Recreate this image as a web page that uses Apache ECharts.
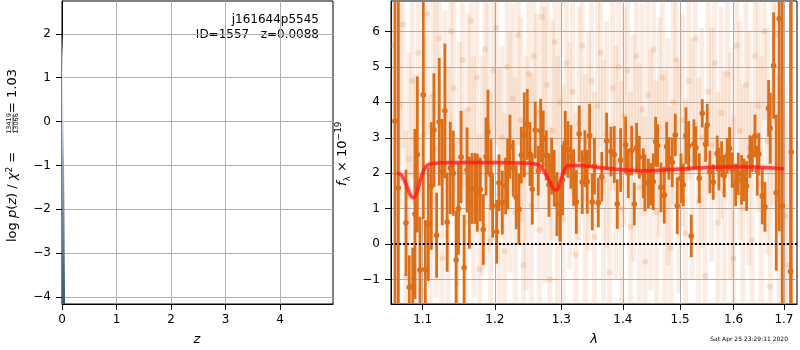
<!DOCTYPE html>
<html>
<head>
<meta charset="utf-8">
<script src="https://cdn.jsdelivr.net/npm/echarts@6/dist/echarts.min.js"></script>
<style>
  html, body { margin: 0; padding: 0; background: #fff; }
  #chart { width: 800px; height: 350px; }
</style>
</head>
<body>
<div id="chart"></div>
<script>
// left panel: log p(z)
const zGrid = [0, 0.009, 0.015, 0.027, 0.037, 0.045, 0.05, 0.055, 0.057]
const logPz = [2.02, 2.03, 1.5, 0.0, -1.0, -2.0, -3.0, -4.0, -4.16]
const zTicks = [0, 1, 2, 3, 4]
const pzTicks = [-4, -3, -2, -1, 0, 1, 2]

// right panel: template fit
const modelWave = [1.066, 1.072, 1.078, 1.083, 1.088, 1.093, 1.099, 1.104, 1.110, 1.120, 1.150, 1.200, 1.240, 1.258, 1.268, 1.278, 1.287, 1.293, 1.299, 1.305, 1.311, 1.330, 1.360, 1.400, 1.430, 1.460, 1.500, 1.550, 1.600, 1.650, 1.700]
const modelFlux = [2.0, 1.95, 1.7, 1.42, 1.31, 1.5, 1.95, 2.18, 2.26, 2.29, 2.3, 2.3, 2.29, 2.27, 2.2, 1.9, 1.58, 1.53, 1.8, 2.1, 2.22, 2.22, 2.16, 2.1, 2.07, 2.08, 2.12, 2.16, 2.18, 2.17, 2.12]

// spectrum points with good S/N
const specWave = [
  1.0639, 1.0682, 1.0781, 1.0824, 1.0868, 1.0898, 1.0929, 1.0964, 1.1008, 1.1035,
  1.1075, 1.1115, 1.1150, 1.1186, 1.1222, 1.1262, 1.1298, 1.1330, 1.1372, 1.1413,
  1.1453, 1.1485, 1.1521, 1.1563, 1.1604, 1.1637, 1.1674, 1.1716, 1.1749, 1.1791,
  1.1834, 1.1872, 1.1900, 1.1943, 1.1967,
  1.2026, 1.2059, 1.2108, 1.2156, 1.2186, 1.2220, 1.2269, 1.2313, 1.2353, 1.2388,
  1.2433, 1.2478, 1.2518, 1.2553, 1.2598, 1.2644, 1.2680, 1.2720, 1.2767, 1.2808,
  1.2849, 1.2890, 1.2932, 1.2978, 1.3020, 1.3062, 1.3104, 1.3152, 1.3194, 1.3237,
  1.3284, 1.3332, 1.3375, 1.3413, 1.3451, 1.3494,
  1.3530, 1.3593, 1.3650, 1.3730, 1.3802, 1.3857, 1.3907, 1.3963, 1.4047, 1.4093,
  1.4150, 1.4195, 1.4235, 1.4281, 1.4350, 1.4378, 1.4436, 1.4477, 1.4524, 1.4565,
  1.4600, 1.4659, 1.4717, 1.4759, 1.4800, 1.4860, 1.4914, 1.4950, 1.5016, 1.5058,
  1.5106, 1.5155, 1.5204, 1.5253,
  1.5290, 1.5351, 1.5407, 1.5469, 1.5499, 1.5549, 1.5612, 1.5687, 1.5719, 1.5770,
  1.5820, 1.5877, 1.5922, 1.5973, 1.6038, 1.6090, 1.6154, 1.6200, 1.6252, 1.6317,
  1.6363, 1.6417, 1.6462, 1.6495, 1.6562, 1.6615, 1.6688, 1.6722, 1.6790, 1.6843,
  1.6904, 1.6966, 1.7137, 1.7151
]
const specFlux = [
  3.47, 1.59, 0.60, -1.22, -1.20, 0.85, 2.53, -0.73, 4.21, -0.72,
  0.56, 1.64, 3.22, 0.25, 3.45, 2.03, 3.76, 0.62, 2.15, 2.00,
  -0.45, 1.00, 2.46, -0.67, 2.09, 1.17, 1.57, 1.57, 1.45, 1.54,
  0.41, 2.47, 3.16, 1.96, 1.08,
  0.35, 1.73, 1.17, 1.64, 1.98, 2.75, 2.14, 1.32, 0.98, 2.51,
  3.08, 3.38, 2.54, 1.55, 3.22, 2.07, 3.20, 2.97, 2.51, 1.67,
  2.20, 1.86, 1.13, 0.87, 1.81, 2.86, 2.67, 2.46, 1.88, 1.19,
  3.11, 1.75, 2.41, 1.76, 3.06, 1.19,
  2.20, 1.17, 1.90, 2.91, 2.61, 2.53, 1.13, 2.37, 2.80, 2.00,
  2.64, 1.13, 2.72, 2.45, 2.00, 1.73, 1.71, 1.69, 1.76, 2.89,
  2.78, 1.60, 1.38, 2.75, 2.42, 2.31, 3.08, 1.08, 1.86, 1.67,
  3.06, 2.77, 0.23, 2.82,
  2.72, 1.86, 3.69, 2.82, 3.36, 2.04, 1.75, 2.56, 2.12, 2.40,
  1.92, 2.49, 2.70, 2.09, 1.67, 1.98, 1.81, 1.81, 1.64, 2.47,
  2.54, 3.05, 2.07, 2.54, 1.36, 1.05, 3.83, 3.27, 5.04, 1.45,
  6.36, 1.08, -0.77, 2.60
]
const specErr = [
  10, 10, 1.5, 0.9, 1.1, 2.4, 2.2, 1.5, 3.5, 1.4,
  1.6, 1.8, 1.6, 1.2, 1.8, 1.5, 1.9, 1.4, 1.3, 1.2,
  1.4, 1.3, 1.3, 1.5, 1.2, 1.3, 1.0, 1.0, 1.1, 0.9,
  1.0, 1.1, 1.2, 1.0, 0.9,
  0.9, 0.8, 0.9, 0.8, 1.0, 0.9, 0.8, 0.9, 1.0, 0.8,
  1.2, 1.0, 0.9, 1.0, 0.8, 0.7, 0.9, 0.8, 0.7, 0.9,
  0.8, 0.8, 0.9, 0.8, 1.0, 0.9, 0.8, 0.9, 0.8, 0.9,
  0.8, 0.9, 0.8, 0.9, 0.9, 0.8,
  0.8, 0.7, 0.7, 0.8, 0.7, 0.8, 0.7, 0.9, 0.8, 0.7,
  0.7, 0.6, 0.7, 0.6, 0.7, 0.8, 0.7, 0.6, 0.8, 0.7,
  0.6, 0.7, 0.8, 0.7, 0.6, 0.7, 0.6, 0.8, 0.7, 0.6,
  0.8, 0.7, 0.6, 0.7,
  0.6, 0.7, 0.4, 0.5, 0.6, 0.6, 0.5, 0.5, 0.6, 0.5,
  0.6, 0.5, 0.6, 0.5, 0.6, 0.6, 0.7, 0.6, 0.7, 0.6,
  0.5, 0.6, 0.7, 0.6, 0.8, 0.7, 0.8, 1.0, 1.5, 2.2,
  6.0, 8.0, 10, 10
]

// low S/N points (drawn faint)
const faintWave = [
  1.062, 1.066, 1.070, 1.074, 1.078, 1.082, 1.086, 1.090, 1.094, 1.098,
  1.102, 1.106, 1.110, 1.114, 1.118, 1.122, 1.126, 1.130, 1.134, 1.138,
  1.142, 1.146, 1.150, 1.154, 1.158, 1.162, 1.166, 1.170, 1.174, 1.178,
  1.182, 1.186, 1.190, 1.194, 1.198, 1.202, 1.206, 1.210, 1.214, 1.218,
  1.222, 1.226, 1.230, 1.234, 1.238, 1.242, 1.246, 1.250, 1.254, 1.258,
  1.262, 1.266, 1.270, 1.274, 1.278, 1.282, 1.286, 1.290, 1.294, 1.298,
  1.303, 1.308, 1.313, 1.318, 1.323, 1.328, 1.333, 1.338, 1.343, 1.348,
  1.353, 1.358, 1.363, 1.368, 1.373, 1.378, 1.383, 1.388, 1.393, 1.398,
  1.403, 1.408, 1.413, 1.418, 1.423, 1.428, 1.433, 1.438, 1.443, 1.448,
  1.453, 1.458, 1.463, 1.468, 1.473, 1.478, 1.483, 1.488, 1.493, 1.498,
  1.504, 1.510, 1.516, 1.522, 1.528, 1.534, 1.540, 1.546, 1.552, 1.558,
  1.564, 1.570, 1.576, 1.582, 1.588, 1.594, 1.600, 1.606, 1.612, 1.618,
  1.624, 1.630, 1.636, 1.642, 1.648, 1.654, 1.660, 1.666, 1.672, 1.678,
  1.684, 1.690, 1.696, 1.702, 1.708
]
const faintFlux = [
  5.6, 0.8, 3.9, 6.2, -0.9, 2.4, 4.6, 1.2, 5.4, -1.3,
  3.1, 6.5, 0.3, 4.2, 2.7, 5.8, -0.4, 3.6, 1.5, 6.0,
  4.4, -1.1, 2.9, 5.2, 0.6, 3.8, 6.3, 1.9, 4.7, -0.7,
  2.2, 5.5, 3.3, 0.1, 4.9, 6.1, 1.4, 3.0, -0.2, 5.0,
  2.6, 4.1, 0.9, 5.9, 3.5, -0.6, 2.0, 4.8, 1.1, 5.3,
  3.7, 0.4, 6.4, 2.8, 4.5, -1.0, 3.2, 5.7, 1.7, 4.0,
  0.7, 5.1, 2.5, 4.3, -0.3, 3.4, 5.6, 1.3, 2.9, 4.6,
  0.2, 3.9, 5.4, 1.8, 3.1, -0.8, 4.4, 2.3, 5.0, 1.0,
  3.6, 4.9, 0.5, 2.7, 5.3, 1.6, 3.8, -0.5, 4.2, 2.1,
  5.5, 0.9, 3.3, 4.7, 1.4, 2.6, -0.1, 4.0, 5.2, 1.9,
  3.5, 0.3, 4.6, 2.4, 5.8, 1.2, 3.0, -0.9, 4.3, 2.8,
  5.1, 0.6, 3.7, 1.5, 4.8, 2.2, -0.4, 5.6, 3.2, 1.0,
  4.5, 2.7, 0.1, 5.3, 3.9, 1.7, 6.0, 2.9, -1.2, 4.1,
  5.9, 1.3, 3.4, 0.8, -0.6
]
const faintErr = [
  3.2, 3.8, 2.9, 3.5, 4.1, 3.0, 2.7, 3.6, 3.3, 4.4,
  2.8, 3.4, 3.9, 3.1, 4.2, 2.6, 3.7, 3.0, 3.5, 2.9,
  3.3, 4.0, 2.8, 3.6, 3.2, 2.7, 3.9, 3.4, 2.5, 3.8,
  3.1, 2.9, 3.5, 4.2, 2.8, 3.3, 3.6, 2.6, 3.9, 3.0,
  3.4, 2.7, 3.8, 3.1, 2.9, 4.1, 3.3, 2.6, 3.7, 3.2,
  2.8, 3.5, 3.0, 3.9, 2.7, 4.3, 3.1, 2.9, 3.6, 3.4,
  3.8, 2.6, 3.2, 2.9, 4.0, 3.3, 2.7, 3.5, 3.1, 2.8,
  4.1, 3.0, 2.7, 3.4, 3.2, 4.2, 2.9, 3.3, 2.8, 3.6,
  3.1, 2.7, 3.8, 3.2, 2.9, 3.5, 3.0, 4.1, 2.8, 3.4,
  2.6, 3.7, 3.1, 2.8, 3.5, 3.2, 4.0, 2.9, 2.7, 3.3,
  3.0, 3.8, 2.8, 3.4, 2.6, 3.5, 3.1, 4.2, 2.9, 3.3,
  2.7, 3.7, 3.0, 3.4, 2.8, 3.2, 4.0, 2.6, 3.1, 3.5,
  2.9, 3.3, 3.9, 2.7, 3.0, 3.6, 2.5, 3.2, 4.3, 3.0,
  2.6, 3.5, 3.1, 3.7, 4.1
]
const waveTicks = [1.1, 1.2, 1.3, 1.4, 1.5, 1.6, 1.7]
const fluxTicks = [-1, 0, 1, 2, 3, 4, 5, 6]

const FONT = "DejaVu Sans"
const minus = (v) => (v < 0 ? "\u2212" + Math.abs(v) : String(v))

function errorBars(barWidth, barColor, dotColor, radius) {
  return function (params, api) {
    const x = api.value(0)
    const y = api.value(1)
    const e = api.value(2)
    const top = api.coord([x, y + e])
    const bot = api.coord([x, y - e])
    const mid = api.coord([x, y])
    return {
      type: "group",
      children: [
        {
          type: "rect",
          shape: { x: mid[0] - barWidth / 2, y: top[1], width: barWidth, height: bot[1] - top[1] },
          style: { fill: barColor },
        },
        {
          type: "circle",
          shape: { cx: mid[0], cy: mid[1], r: radius },
          style: { fill: dotColor },
        },
      ],
    }
  }
}

const axisLine = { show: true, onZero: false, lineStyle: { color: "#000", width: 1 } }
const tickStyle = { show: true, inside: false, length: 6, lineStyle: { color: "#000", width: 1 } }
const labelStyle = { color: "#000", fontFamily: FONT, fontSize: 12 }
const gridLine = { show: true, lineStyle: { color: "#b0b0b0", width: 1 } }

function valueAxis(gridIndex, min, max, ticks, margin) {
  return {
    type: "value",
    gridIndex,
    min,
    max,
    axisLine,
    axisTick: Object.assign({ customValues: ticks }, tickStyle),
    axisLabel: Object.assign({ customValues: ticks, formatter: minus, margin }, labelStyle),
    splitLine: gridLine,
  }
}

const chart = echarts.init(document.getElementById("chart"), null, { renderer: "canvas" })

const option = {
  animation: false,
  backgroundColor: "#fff",
  grid: [
    { left: 62, top: 1, width: 271, height: 303, show: true, borderColor: "#000", borderWidth: 1, backgroundColor: "transparent" },
    { left: 391, top: 1, width: 406, height: 303, show: true, borderColor: "#000", borderWidth: 1, backgroundColor: "transparent" },
  ],
  xAxis: [
    valueAxis(0, 0, 4.97, zTicks, 10),
    {
      type: "log",
      gridIndex: 1,
      min: 1.0588,
      max: 1.727,
      axisLine,
      axisTick: Object.assign({ customValues: waveTicks }, tickStyle),
      axisLabel: Object.assign({ customValues: waveTicks, formatter: (v) => v.toFixed(1), margin: 10 }, labelStyle),
      splitLine: gridLine,
      minorTick: { show: false },
      minorSplitLine: { show: false },
    },
  ],
  yAxis: [
    valueAxis(0, -4.16, 2.75, pzTicks, 11),
    valueAxis(1, -1.69, 6.86, fluxTicks, 11),
  ],
  series: [
    {
      type: "line",
      xAxisIndex: 0,
      yAxisIndex: 0,
      data: zGrid.map((z, i) => [z, logPz[i]]),
      showSymbol: false,
      lineStyle: { width: 0 },
      areaStyle: {
        origin: "start",
        opacity: 1,
        color: new echarts.graphic.LinearGradient(0, 0, 0, 1, [
          { offset: 0, color: "#ffffff" },
          { offset: 0.3, color: "#d7e1ea" },
          { offset: 0.5, color: "#8fa3b4" },
          { offset: 1, color: "#3e566b" },
        ]),
      },
    },
    {
      type: "custom",
      xAxisIndex: 1,
      yAxisIndex: 1,
      clip: true,
      renderItem: errorBars(5, "rgba(232,140,80,0.16)", "rgba(225,125,55,0.2)", 3),
      data: faintWave.map((w, i) => [w, faintFlux[i], faintErr[i]]),
    },
    {
      type: "custom",
      xAxisIndex: 1,
      yAxisIndex: 1,
      clip: true,
      renderItem: errorBars(2.8, "rgb(220,110,25)", "rgb(220,110,25)", 2.8),
      data: specWave.map((w, i) => [w, specFlux[i], specErr[i]]),
    },
    {
      type: "line",
      xAxisIndex: 1,
      yAxisIndex: 1,
      data: modelWave.map((w, i) => [w, modelFlux[i]]),
      smooth: 0.3,
      showSymbol: false,
      lineStyle: { color: "rgba(255,20,20,0.7)", width: 3.5, shadowColor: "rgba(255,60,60,0.5)", shadowBlur: 3 },
      markLine: {
        silent: true,
        symbol: "none",
        label: { show: false },
        lineStyle: { color: "#000", type: [2, 2], width: 2 },
        data: [{ yAxis: 0 }],
      },
      z: 5,
    },
  ],
  graphic: [
    { type: "text", x: 319, y: 20, style: { text: "j161644p5545", font: `12px "${FONT}"`, fill: "#000", align: "right", verticalAlign: "middle" } },
    { type: "text", x: 319, y: 35, style: { text: "ID=1557   z=0.0088", font: `12px "${FONT}"`, fill: "#000", align: "right", verticalAlign: "middle" } },
    { type: "text", x: 197, y: 340, style: { text: "z", font: `italic 13px "${FONT}"`, fill: "#000", align: "center", verticalAlign: "middle" } },
    { type: "text", x: 594, y: 340, style: { text: "λ", font: `italic 13px "${FONT}"`, fill: "#000", align: "center", verticalAlign: "middle" } },
    { type: "text", x: 788, y: 339, style: { text: "Sat Apr 25 23:29:11 2020", font: `6px "${FONT}"`, fill: "#000", align: "right", verticalAlign: "middle" } },
    {
      type: "group",
      x: 13,
      y: 242,
      rotation: Math.PI / 2,
      children: [
        {
          type: "text",
          x: 0,
          y: 0,
          style: {
            text: "{n|log }{i|p}{n|(}{i|z}{n|) / }{i|χ}{s|2}{n| = }",
            align: "left",
            verticalAlign: "middle",
            rich: {
              n: { fontFamily: FONT, fontSize: 13, lineHeight: 16 },
              i: { fontFamily: FONT, fontSize: 13, fontStyle: "italic", lineHeight: 16 },
              s: { fontFamily: FONT, fontSize: 9, lineHeight: 10, verticalAlign: "top" },
            },
          },
        },
        { type: "text", x: 118.5, y: -3.5, style: { text: "13419", font: `6.5px "${FONT}"`, fill: "#000", align: "center", verticalAlign: "middle" } },
        { type: "line", shape: { x1: 110, y1: 0, x2: 127, y2: 0 }, style: { stroke: "#000", lineWidth: 0.7 } },
        { type: "text", x: 118.5, y: 3.8, style: { text: "13066", font: `6.5px "${FONT}"`, fill: "#000", align: "center", verticalAlign: "middle" } },
        { type: "text", x: 129, y: 0, style: { text: "= 1.03", font: `13px "${FONT}"`, fill: "#000", align: "left", verticalAlign: "middle" } },
      ],
    },
    {
      type: "group",
      x: 343,
      y: 186,
      rotation: Math.PI / 2,
      children: [
        {
          type: "text",
          x: 0,
          y: 0,
          style: {
            text: "{i|f}{b|λ}{n| × 10}{s|−19}",
            align: "left",
            verticalAlign: "middle",
            rich: {
              n: { fontFamily: FONT, fontSize: 13, lineHeight: 18 },
              i: { fontFamily: FONT, fontSize: 13, fontStyle: "italic", lineHeight: 18 },
              b: { fontFamily: FONT, fontSize: 9, lineHeight: 10, verticalAlign: "bottom" },
              s: { fontFamily: FONT, fontSize: 9, lineHeight: 10, verticalAlign: "top" },
            },
          },
        },
      ],
    },
  ],
}

chart.setOption(option)
</script>
</body>
</html>
